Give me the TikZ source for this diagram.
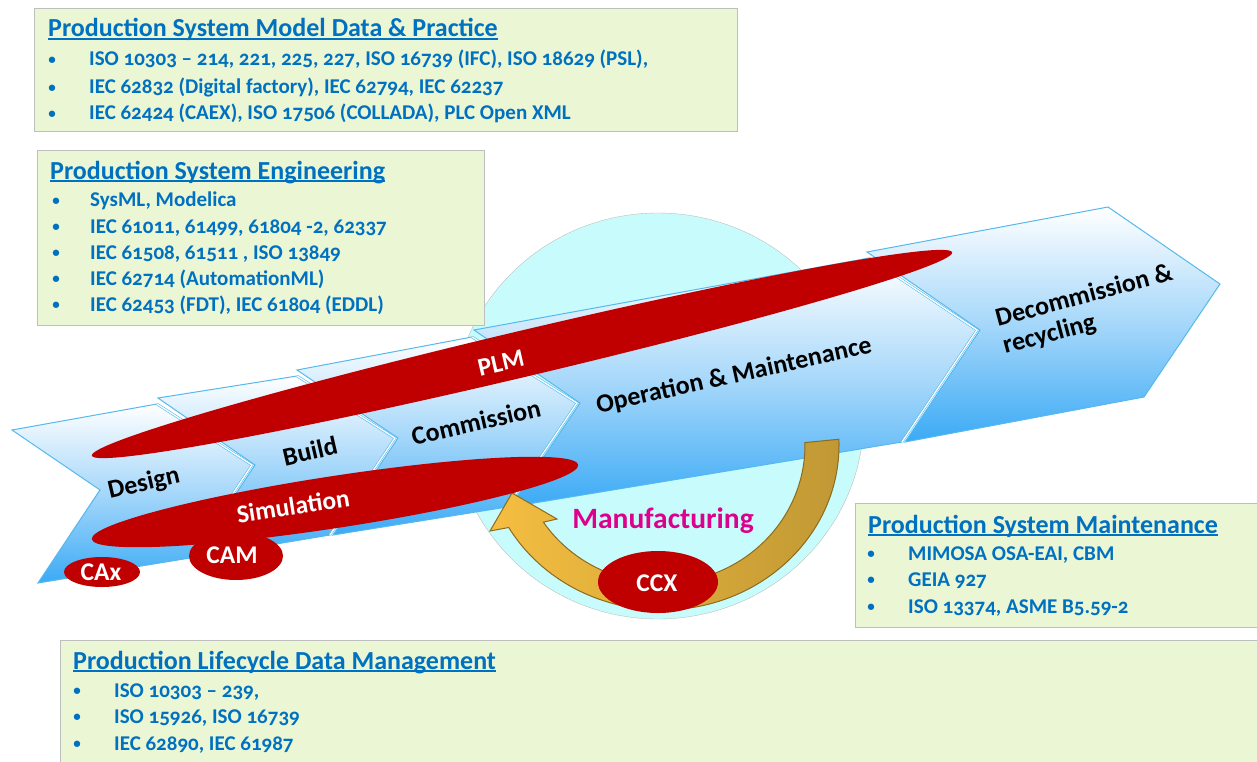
\documentclass[tikz,border=0pt]{standalone}
\usepackage{fontspec}
\setmainfont{Carlito}[Numbers=OldStyle]
\usepackage{tikz}
\usetikzlibrary{positioning, shapes.geometric, calc}
\definecolor{boxfill}{RGB}{235,246,213}
\definecolor{boxline}{RGB}{190,190,190}
\definecolor{textblue}{RGB}{0,112,192}
\definecolor{chevblue}{RGB}{59,170,245}
\definecolor{chevmid}{RGB}{165,215,250}
\definecolor{chevline}{RGB}{85,185,238}
\definecolor{plmred}{RGB}{192,0,0}
\definecolor{circfill}{RGB}{200,252,252}
\definecolor{arrowlight}{RGB}{245,190,65}
\definecolor{arrowdark}{RGB}{192,152,52}
\definecolor{arrowline}{RGB}{140,106,30}
\definecolor{manuf}{RGB}{220,0,140}
\newcommand{\sz}[1]{\fontsize{#1}{#1}\selectfont}

\begin{document}
\begin{tikzpicture}[x=1pt, y=-1pt]
\tikzstyle{every node}=[inner sep=0pt]
\tikzstyle{infobox}=[draw=boxline, fill=boxfill, anchor=north west, line width=1pt]
\tikzstyle{boxtitle}=[anchor=base west, text=textblue, font=\sz{26}\bfseries]
\tikzstyle{boxitem}=[anchor=base west, text=textblue, font=\sz{21}\bfseries]
\tikzstyle{dot}=[anchor=base, yshift=1.5pt, text=textblue, font=\sz{15}\bfseries]
\tikzstyle{titleline}=[textblue, line width=1.2pt]
\tikzstyle{chev}=[top color=white, bottom color=chevblue, middle color=chevmid, draw=chevline, line width=1pt, line join=miter]
\tikzstyle{chevedge}=[draw=chevline, double=white, double distance=1.3pt, line width=0.6pt, line join=miter]
\tikzstyle{stage}=[font=\sz{26}\bfseries, text=black]
\tikzstyle{blob}=[ellipse, fill=plmred, draw=none]
\tikzstyle{blobtext}=[font=\sz{25.5}\bfseries, text=white]
\useasboundingbox (0,0) rectangle (1257,762);

% manufacturing circle
\path (658,416) node (manufcircle)[ellipse, fill=circfill, draw=boxline, line width=0.4pt, minimum width=412pt, minimum height=406pt] {};

% info boxes
\path (34,8) node (boxmodel)[infobox, minimum width=703pt, minimum height=123pt] {}
(37,150) node (boxeng)[infobox, minimum width=447pt, minimum height=175pt] {}
(855,503) node (boxmaint)[infobox, minimum width=402pt, minimum height=124pt] {}
(60,640) node (boxplm)[infobox, minimum width=1197pt, minimum height=124pt] {};

\path (48,37) node (tmodel)[boxtitle] {Production System Model Data \& Practice}
(52,66) node (dA1)[dot] {\textbullet} (89,66) node (iA1)[boxitem] {ISO 10303 – 214, 221, 225, 227, ISO 16739 (IFC), ISO 18629 (PSL),}
(52,94) node (dA2)[dot] {\textbullet} (89,94) node (iA2)[boxitem] {IEC 62832 (Digital factory), IEC 62794, IEC 62237}
(52,120) node (dA3)[dot] {\textbullet} (89,120) node (iA3)[boxitem] {IEC 62424 (CAEX), ISO 17506 (COLLADA), PLC Open XML};

\path (50,179) node (teng)[boxtitle] {Production System Engineering}
(56,207) node (dB1)[dot] {\textbullet} (90,207) node (iB1)[boxitem] {SysML, Modelica}
(56,233) node (dB2)[dot] {\textbullet} (90,233) node (iB2)[boxitem] {IEC 61011, 61499, 61804 -2, 62337}
(56,259) node (dB3)[dot] {\textbullet} (90,259) node (iB3)[boxitem] {IEC 61508, 61511 , ISO 13849}
(56,285) node (dB4)[dot] {\textbullet} (90,285) node (iB4)[boxitem] {IEC 62714 (AutomationML)}
(56,311) node (dB5)[dot] {\textbullet} (90,311) node (iB5)[boxitem] {IEC 62453 (FDT), IEC 61804 (EDDL)};

\path (868,533) node (tmaint)[boxtitle] {Production System Maintenance}
(871,560) node (dC1)[dot] {\textbullet} (908,560) node (iC1)[boxitem] {MIMOSA OSA-EAI, CBM}
(871,586) node (dC2)[dot] {\textbullet} (908,586) node (iC2)[boxitem] {GEIA 927}
(871,613) node (dC3)[dot] {\textbullet} (908,613) node (iC3)[boxitem] {ISO 13374, ASME B5.59-2};

\path (73,669) node (tplm)[boxtitle] {Production Lifecycle Data Management}
(77,697) node (dD1)[dot] {\textbullet} (114,697) node (iD1)[boxitem] {ISO 10303 – 239,}
(77,723) node (dD2)[dot] {\textbullet} (114,723) node (iD2)[boxitem] {ISO 15926, ISO 16739}
(77,750) node (dD3)[dot] {\textbullet} (114,750) node (iD3)[boxitem] {IEC 62890, IEC 61987};

\draw[titleline] ([yshift=-2pt]tmodel.base west) -- ([yshift=-2pt]tmodel.base east);
\draw[titleline] ([yshift=-2pt]teng.base west) -- ([yshift=-2pt]teng.base east);
\draw[titleline] ([yshift=-2pt]tmaint.base west) -- ([yshift=-2pt]tmaint.base east);
\draw[titleline] ([yshift=-2pt]tplm.base west) -- ([yshift=-2pt]tplm.base east);

% chevrons, right to left
\path[chev] (867,252) -- (1108,207) -- (1220,284) -- (1144,397) -- (905,442) -- (980,330) -- cycle;
\path[chev] (474,330) -- (869,258) -- (977,330) -- (902,442) -- (510,507) -- (580,403) -- cycle;
\draw[chevedge] (869,258) -- (977,330) -- (902,442);
\path[chev] (297,370) -- (472,337) -- (577,403) -- (507,507) -- (333,535) -- (398,438) -- cycle;
\draw[chevedge] (472,337) -- (577,403) -- (507,507);
\path[chev] (158,398) -- (297,376) -- (395,438) -- (330,535) -- (193,558) -- (255,465) -- cycle;
\draw[chevedge] (297,376) -- (395,438) -- (330,535);
\path[chev] (12,430) -- (157,404) -- (252,465) -- (190,558) -- (38,583) -- (100,490) -- cycle;
\draw[chevedge] (157,404) -- (252,465) -- (190,558);

% curved arrow
\coordinate (arcc) at (662,445);
\draw[arrowline, line width=1pt, left color=arrowlight, right color=arrowdark, line join=miter]
  ($(arcc)+(-1:143 and 138)$) -- ($(arcc)+(-2:177 and 165)$)
  arc[start angle=-2, end angle=150, x radius=177, y radius=165]
  -- (490,531) -- (512,493) -- (557,519)
  -- ($(arcc)+(146:143 and 138)$)
  arc[start angle=146, end angle=-1, x radius=143, y radius=138] -- cycle;

% red blobs
\path (522,354) node (plm)[blob, minimum width=884pt, minimum height=46pt, rotate=13.3] {}
(335,502) node (sim)[blob, minimum width=492pt, minimum height=52pt, rotate=8.7] {}
(236,556) node (cam)[blob, minimum width=94pt, minimum height=48pt] {}
(102,572) node (cax)[blob, minimum width=76pt, minimum height=30pt] {}
(658,582) node (ccx)[blob, minimum width=120pt, minimum height=62pt] {};

\path (501,363) node (lplm)[blobtext, rotate=13] {PLM}
(293,506) node (lsim)[blobtext, rotate=9] {Simulation}
(232,555) node (lcam)[blobtext] {CAM}
(101,572) node (lcax)[blobtext] {CAx}
(657,583) node (lccx)[blobtext] {CCX}
(663,528) node (lmanuf)[anchor=base, font=\sz{29.5}\bfseries, text=manuf] {Manufacturing};

% stage labels
\path (144,484) node (sdesign)[stage, rotate=13] {Design}
(310,451) node (sbuild)[stage, rotate=13] {Build}
(476,422) node (scomm)[stage, rotate=13] {Commission}
(734,376) node (soper)[stage, rotate=12.5] {Operation \& Maintenance}
(1088,310) node (sdecom)[stage, rotate=15, align=left, font=\fontsize{26}{28}\selectfont\bfseries] {Decommission \&\\recycling};
\end{tikzpicture}
\end{document}
